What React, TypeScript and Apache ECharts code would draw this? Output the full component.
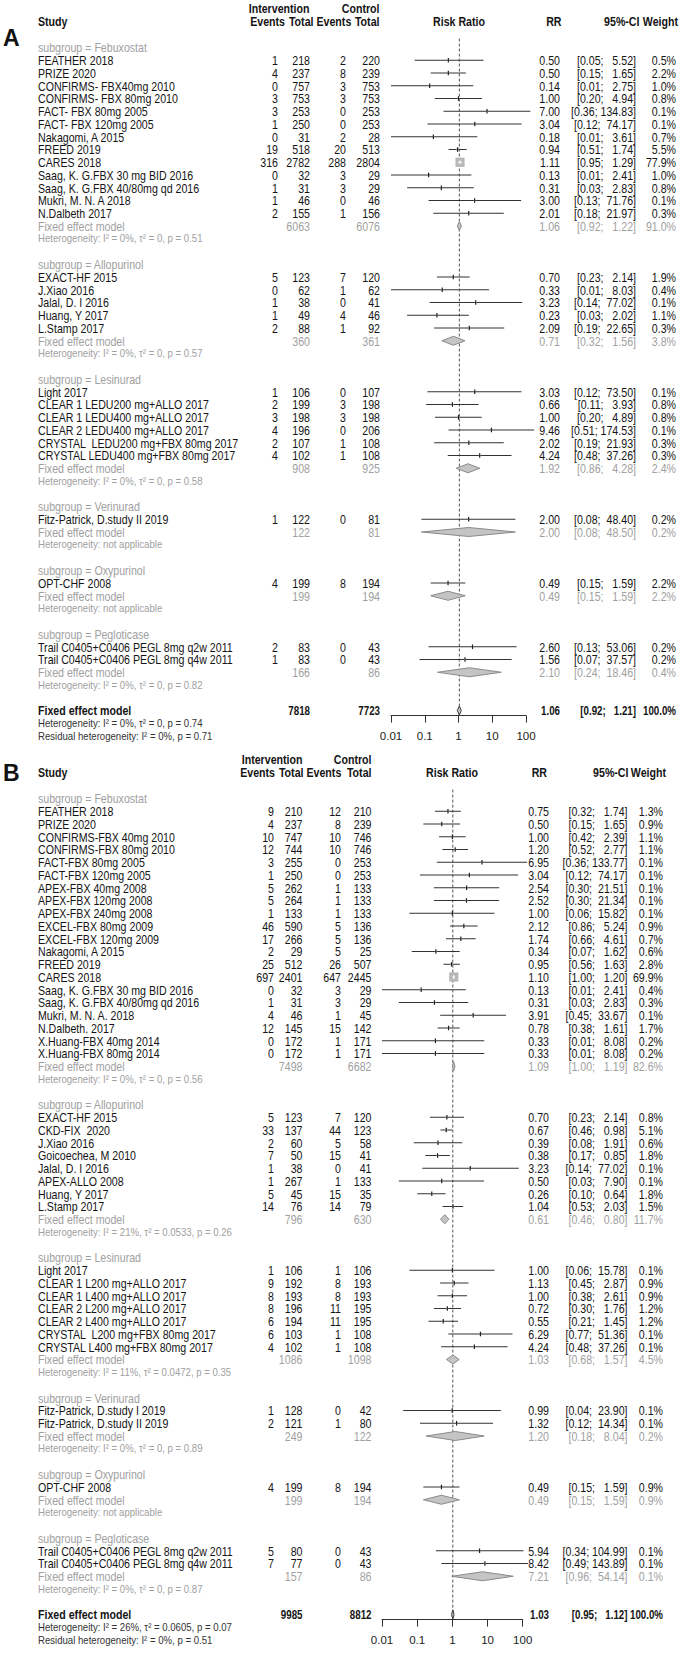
import { useEffect, useRef } from "react";
import * as echarts from "echarts";

// [name, events I, total I, events C, total C, RR, lower, upper, weight %]
type Study = [string, number, number, number, number, number, number, number, number];
// [total I, total C, RR, lower, upper, weight %]
type Pooled = [number, number, number, number, number, number];

// ---------------- Panel A ----------------
const A_FEBUXOSTAT: Study[] = [
  ["FEATHER 2018", 1, 218, 2, 220, 0.5, 0.05, 5.52, 0.5],
  ["PRIZE 2020", 4, 237, 8, 239, 0.5, 0.15, 1.65, 2.2],
  ["CONFIRMS- FBX40mg 2010", 0, 757, 3, 753, 0.14, 0.01, 2.75, 1.0],
  ["CONFIRMS- FBX 80mg 2010", 3, 753, 3, 753, 1.0, 0.2, 4.94, 0.8],
  ["FACT- FBX 80mg 2005", 3, 253, 0, 253, 7.0, 0.36, 134.83, 0.1],
  ["FACT- FBX 120mg 2005", 1, 250, 0, 253, 3.04, 0.12, 74.17, 0.1],
  ["Nakagomi, A 2015", 0, 31, 2, 28, 0.18, 0.01, 3.61, 0.7],
  ["FREED 2019", 19, 518, 20, 513, 0.94, 0.51, 1.74, 5.5],
  ["CARES 2018", 316, 2782, 288, 2804, 1.11, 0.95, 1.29, 77.9],
  ["Saag, K. G.FBX 30 mg BID 2016", 0, 32, 3, 29, 0.13, 0.01, 2.41, 1.0],
  ["Saag, K. G.FBX 40/80mg qd 2016", 1, 31, 3, 29, 0.31, 0.03, 2.83, 0.8],
  ["Mukri, M. N. A 2018", 1, 46, 0, 46, 3.0, 0.13, 71.76, 0.1],
  ["N.Dalbeth 2017", 2, 155, 1, 156, 2.01, 0.18, 21.97, 0.3],
];
const A_FEBUXOSTAT_FE: Pooled = [6063, 6076, 1.06, 0.92, 1.22, 91.0];
const A_FEBUXOSTAT_HET = "Heterogeneity: I² = 0%, τ² = 0, p = 0.51";

const A_ALLOPURINOL: Study[] = [
  ["EXACT-HF 2015", 5, 123, 7, 120, 0.7, 0.23, 2.14, 1.9],
  ["J.Xiao 2016", 0, 62, 1, 62, 0.33, 0.01, 8.03, 0.4],
  ["Jalal, D. I 2016", 1, 38, 0, 41, 3.23, 0.14, 77.02, 0.1],
  ["Huang, Y 2017", 1, 49, 4, 46, 0.23, 0.03, 2.02, 1.1],
  ["L.Stamp 2017", 2, 88, 1, 92, 2.09, 0.19, 22.65, 0.3],
];
const A_ALLOPURINOL_FE: Pooled = [360, 361, 0.71, 0.32, 1.56, 3.8];
const A_ALLOPURINOL_HET = "Heterogeneity: I² = 0%, τ² = 0, p = 0.57";

const A_LESINURAD: Study[] = [
  ["Light 2017", 1, 106, 0, 107, 3.03, 0.12, 73.5, 0.1],
  ["CLEAR 1 LEDU200 mg+ALLO 2017", 2, 199, 3, 198, 0.66, 0.11, 3.93, 0.8],
  ["CLEAR 1 LEDU400 mg+ALLO 2017", 3, 198, 3, 198, 1.0, 0.2, 4.89, 0.8],
  ["CLEAR 2 LEDU400 mg+ALLO 2017", 4, 196, 0, 206, 9.46, 0.51, 174.53, 0.1],
  ["CRYSTAL  LEDU200 mg+FBX 80mg 2017", 2, 107, 1, 108, 2.02, 0.19, 21.93, 0.3],
  ["CRYSTAL LEDU400 mg+FBX 80mg 2017", 4, 102, 1, 108, 4.24, 0.48, 37.26, 0.3],
];
const A_LESINURAD_FE: Pooled = [908, 925, 1.92, 0.86, 4.28, 2.4];
const A_LESINURAD_HET = "Heterogeneity: I² = 0%, τ² = 0, p = 0.58";

const A_VERINURAD: Study[] = [
  ["Fitz-Patrick, D.study II 2019", 1, 122, 0, 81, 2.0, 0.08, 48.4, 0.2],
];
const A_VERINURAD_FE: Pooled = [122, 81, 2.0, 0.08, 48.5, 0.2];
const A_VERINURAD_HET = "Heterogeneity: not applicable";

const A_OXYPURINOL: Study[] = [["OPT-CHF 2008", 4, 199, 8, 194, 0.49, 0.15, 1.59, 2.2]];
const A_OXYPURINOL_FE: Pooled = [199, 194, 0.49, 0.15, 1.59, 2.2];
const A_OXYPURINOL_HET = "Heterogeneity: not applicable";

const A_PEGLOTICASE: Study[] = [
  ["Trail C0405+C0406 PEGL 8mg q2w 2011", 2, 83, 0, 43, 2.6, 0.13, 53.06, 0.2],
  ["Trail C0405+C0406 PEGL 8mg q4w 2011", 1, 83, 0, 43, 1.56, 0.07, 37.57, 0.2],
];
const A_PEGLOTICASE_FE: Pooled = [166, 86, 2.1, 0.24, 18.46, 0.4];
const A_PEGLOTICASE_HET = "Heterogeneity: I² = 0%, τ² = 0, p = 0.82";

const A_OVERALL: Pooled = [7818, 7723, 1.06, 0.92, 1.21, 100.0];
const A_OVERALL_HET = "Heterogeneity: I² = 0%, τ² = 0, p = 0.74";
const A_RESIDUAL = "Residual heterogeneity: I² = 0%, p = 0.71";

// ---------------- Panel B ----------------
const B_FEBUXOSTAT: Study[] = [
  ["FEATHER 2018", 9, 210, 12, 210, 0.75, 0.32, 1.74, 1.3],
  ["PRIZE 2020", 4, 237, 8, 239, 0.5, 0.15, 1.65, 0.9],
  ["CONFIRMS-FBX 40mg 2010", 10, 747, 10, 746, 1.0, 0.42, 2.39, 1.1],
  ["CONFIRMS-FBX 80mg 2010", 12, 744, 10, 746, 1.2, 0.52, 2.77, 1.1],
  ["FACT-FBX 80mg 2005", 3, 255, 0, 253, 6.95, 0.36, 133.77, 0.1],
  ["FACT-FBX 120mg 2005", 1, 250, 0, 253, 3.04, 0.12, 74.17, 0.1],
  ["APEX-FBX 40mg 2008", 5, 262, 1, 133, 2.54, 0.3, 21.51, 0.1],
  ["APEX-FBX 120mg 2008", 5, 264, 1, 133, 2.52, 0.3, 21.34, 0.1],
  ["APEX-FBX 240mg 2008", 1, 133, 1, 133, 1.0, 0.06, 15.82, 0.1],
  ["EXCEL-FBX 80mg 2009", 46, 590, 5, 136, 2.12, 0.86, 5.24, 0.9],
  ["EXCEL-FBX 120mg 2009", 17, 266, 5, 136, 1.74, 0.66, 4.61, 0.7],
  ["Nakagomi, A 2015", 2, 29, 5, 25, 0.34, 0.07, 1.62, 0.6],
  ["FREED 2019", 25, 512, 26, 507, 0.95, 0.56, 1.63, 2.8],
  ["CARES 2018", 697, 2401, 647, 2445, 1.1, 1.0, 1.2, 69.9],
  ["Saag, K. G.FBX 30 mg BID 2016", 0, 32, 3, 29, 0.13, 0.01, 2.41, 0.4],
  ["Saag, K. G.FBX 40/80mg qd 2016", 1, 31, 3, 29, 0.31, 0.03, 2.83, 0.3],
  ["Mukri, M. N. A. 2018", 4, 46, 1, 45, 3.91, 0.45, 33.67, 0.1],
  ["N.Dalbeth. 2017", 12, 145, 15, 142, 0.78, 0.38, 1.61, 1.7],
  ["X.Huang-FBX 40mg 2014", 0, 172, 1, 171, 0.33, 0.01, 8.08, 0.2],
  ["X.Huang-FBX 80mg 2014", 0, 172, 1, 171, 0.33, 0.01, 8.08, 0.2],
];
const B_FEBUXOSTAT_FE: Pooled = [7498, 6682, 1.09, 1.0, 1.19, 82.6];
const B_FEBUXOSTAT_HET = "Heterogeneity: I² = 0%, τ² = 0, p = 0.56";

const B_ALLOPURINOL: Study[] = [
  ["EXACT-HF 2015", 5, 123, 7, 120, 0.7, 0.23, 2.14, 0.8],
  ["CKD-FIX  2020", 33, 137, 44, 123, 0.67, 0.46, 0.98, 5.1],
  ["J.Xiao 2016", 2, 60, 5, 58, 0.39, 0.08, 1.91, 0.6],
  ["Goicoechea, M 2010", 7, 50, 15, 41, 0.38, 0.17, 0.85, 1.8],
  ["Jalal, D. I 2016", 1, 38, 0, 41, 3.23, 0.14, 77.02, 0.1],
  ["APEX-ALLO 2008", 1, 267, 1, 133, 0.5, 0.03, 7.9, 0.1],
  ["Huang, Y 2017", 5, 45, 15, 35, 0.26, 0.1, 0.64, 1.8],
  ["L.Stamp 2017", 14, 76, 14, 79, 1.04, 0.53, 2.03, 1.5],
];
const B_ALLOPURINOL_FE: Pooled = [796, 630, 0.61, 0.46, 0.8, 11.7];
const B_ALLOPURINOL_HET = "Heterogeneity: I² = 21%, τ² = 0.0533, p = 0.26";

const B_LESINURAD: Study[] = [
  ["Light 2017", 1, 106, 1, 106, 1.0, 0.06, 15.78, 0.1],
  ["CLEAR 1 L200 mg+ALLO 2017", 9, 192, 8, 193, 1.13, 0.45, 2.87, 0.9],
  ["CLEAR 1 L400 mg+ALLO 2017", 8, 193, 8, 193, 1.0, 0.38, 2.61, 0.9],
  ["CLEAR 2 L200 mg+ALLO 2017", 8, 196, 11, 195, 0.72, 0.3, 1.76, 1.2],
  ["CLEAR 2 L400 mg+ALLO 2017", 6, 194, 11, 195, 0.55, 0.21, 1.45, 1.2],
  ["CRYSTAL  L200 mg+FBX 80mg 2017", 6, 103, 1, 108, 6.29, 0.77, 51.36, 0.1],
  ["CRYSTAL L400 mg+FBX 80mg 2017", 4, 102, 1, 108, 4.24, 0.48, 37.26, 0.1],
];
const B_LESINURAD_FE: Pooled = [1086, 1098, 1.03, 0.68, 1.57, 4.5];
const B_LESINURAD_HET = "Heterogeneity: I² = 11%, τ² = 0.0472, p = 0.35";

const B_VERINURAD: Study[] = [
  ["Fitz-Patrick, D.study I 2019", 1, 128, 0, 42, 0.99, 0.04, 23.9, 0.1],
  ["Fitz-Patrick, D.study II 2019", 2, 121, 1, 80, 1.32, 0.12, 14.34, 0.1],
];
const B_VERINURAD_FE: Pooled = [249, 122, 1.2, 0.18, 8.04, 0.2];
const B_VERINURAD_HET = "Heterogeneity: I² = 0%, τ² = 0, p = 0.89";

const B_OXYPURINOL: Study[] = [["OPT-CHF 2008", 4, 199, 8, 194, 0.49, 0.15, 1.59, 0.9]];
const B_OXYPURINOL_FE: Pooled = [199, 194, 0.49, 0.15, 1.59, 0.9];
const B_OXYPURINOL_HET = "Heterogeneity: not applicable";

const B_PEGLOTICASE: Study[] = [
  ["Trail C0405+C0406 PEGL 8mg q2w 2011", 5, 80, 0, 43, 5.94, 0.34, 104.99, 0.1],
  ["Trail C0405+C0406 PEGL 8mg q4w 2011", 7, 77, 0, 43, 8.42, 0.49, 143.89, 0.1],
];
const B_PEGLOTICASE_FE: Pooled = [157, 86, 7.21, 0.96, 54.14, 0.1];
const B_PEGLOTICASE_HET = "Heterogeneity: I² = 0%, τ² = 0, p = 0.87";

const B_OVERALL: Pooled = [9985, 8812, 1.03, 0.95, 1.12, 100.0];
const B_OVERALL_HET = "Heterogeneity: I² = 26%, τ² = 0.0605, p = 0.07";
const B_RESIDUAL = "Residual heterogeneity: I² = 0%, p = 0.51";

const SUBGROUPS = ["Febuxostat", "Allopurinol", "Lesinurad", "Verinurad", "Oxypurinol", "Pegloticase"];
const AXIS_TICKS = [0.01, 0.1, 1, 10, 100];

// ---------------- layout / style ----------------
const FONT = '"Liberation Sans", Arial, Helvetica, sans-serif';
const FS = 12.5;
const SX = 0.85;
const SXB = 0.78;
const INK = "#141414";
const GRAY = "#a0a0a0";
const NB = "\u00a0";

type Layout = {
  row0: number; h: number; nameX: number;
  ev1: number; tot1: number; ev2: number; tot2: number;
  px0: number; px1: number; rr: number; ci: number; w: number;
  hdrCols: number[]; hdrIntv: number; hdrCtrl: number;
  hdrRR: number; hdrCI: number; hdrW: number; hdrRisk: number;
  letter: string; letterY: number;
};

const LAYOUT_A: Layout = {
  row0: 47.5, h: 12.75, nameX: 38,
  ev1: 278, tot1: 310, ev2: 346, tot2: 380,
  px0: 391, px1: 526, rr: 560, ci: 636, w: 676,
  hdrCols: [285, 313.5, 351.3, 379.5], hdrIntv: 309.5, hdrCtrl: 379.5,
  hdrRR: 561.5, hdrCI: 639.5, hdrW: 678, hdrRisk: 459,
  letter: "A", letterY: 38,
};
const LAYOUT_B: Layout = {
  row0: 798.5, h: 12.75, nameX: 38,
  ev1: 274, tot1: 302.5, ev2: 341, tot2: 371.5,
  px0: 382, px1: 522.7, rr: 549, ci: 627.5, w: 663,
  hdrCols: [275, 303.5, 341.3, 371.5], hdrIntv: 302.5, hdrCtrl: 371.5,
  hdrRR: 547, hdrCI: 628.5, hdrW: 666, hdrRisk: 452,
  letter: "B", letterY: 773,
};

type Group = { name: string; studies: Study[]; fe: Pooled; het: string };

const GROUPS_A: Group[] = [
  { name: SUBGROUPS[0], studies: A_FEBUXOSTAT, fe: A_FEBUXOSTAT_FE, het: A_FEBUXOSTAT_HET },
  { name: SUBGROUPS[1], studies: A_ALLOPURINOL, fe: A_ALLOPURINOL_FE, het: A_ALLOPURINOL_HET },
  { name: SUBGROUPS[2], studies: A_LESINURAD, fe: A_LESINURAD_FE, het: A_LESINURAD_HET },
  { name: SUBGROUPS[3], studies: A_VERINURAD, fe: A_VERINURAD_FE, het: A_VERINURAD_HET },
  { name: SUBGROUPS[4], studies: A_OXYPURINOL, fe: A_OXYPURINOL_FE, het: A_OXYPURINOL_HET },
  { name: SUBGROUPS[5], studies: A_PEGLOTICASE, fe: A_PEGLOTICASE_FE, het: A_PEGLOTICASE_HET },
];
const GROUPS_B: Group[] = [
  { name: SUBGROUPS[0], studies: B_FEBUXOSTAT, fe: B_FEBUXOSTAT_FE, het: B_FEBUXOSTAT_HET },
  { name: SUBGROUPS[1], studies: B_ALLOPURINOL, fe: B_ALLOPURINOL_FE, het: B_ALLOPURINOL_HET },
  { name: SUBGROUPS[2], studies: B_LESINURAD, fe: B_LESINURAD_FE, het: B_LESINURAD_HET },
  { name: SUBGROUPS[3], studies: B_VERINURAD, fe: B_VERINURAD_FE, het: B_VERINURAD_HET },
  { name: SUBGROUPS[4], studies: B_OXYPURINOL, fe: B_OXYPURINOL_FE, het: B_OXYPURINOL_HET },
  { name: SUBGROUPS[5], studies: B_PEGLOTICASE, fe: B_PEGLOTICASE_FE, het: B_PEGLOTICASE_HET },
];

type Row =
  | { kind: "sub"; text: string }
  | { kind: "study"; s: Study }
  | { kind: "fe"; p: Pooled }
  | { kind: "het"; text: string }
  | { kind: "blank" }
  | { kind: "overall"; p: Pooled }
  | { kind: "ohet"; text: string };

function buildRows(groups: Group[], overall: Pooled, het: string, resid: string): Row[] {
  const rows: Row[] = [];
  groups.forEach((g) => {
    rows.push({ kind: "sub", text: `subgroup = ${g.name}` });
    g.studies.forEach((s) => rows.push({ kind: "study", s }));
    rows.push({ kind: "fe", p: g.fe });
    rows.push({ kind: "het", text: g.het });
    rows.push({ kind: "blank" });
  });
  rows.push({ kind: "overall", p: overall });
  rows.push({ kind: "ohet", text: het });
  rows.push({ kind: "ohet", text: resid });
  return rows;
}

const fmtCI = (lo: number, hi: number) => {
  const h = hi.toFixed(2);
  return `[${lo.toFixed(2)};${NB}${NB.repeat(Math.max(0, 6 - h.length))}${h}]`;
};

function panelTexts(rows: Row[], L: Layout): any[] {
  const out: any[] = [];
  const yOf = (i: number) => L.row0 + i * L.h;
  const txt = (
    text: string, x: number, y: number,
    o: { color?: string; bold?: boolean; align?: string; size?: number; sx?: number } = {}
  ) => {
    const align = o.align ?? "left";
    out.push({
      type: "text", x, y, scaleX: o.sx ?? (o.bold ? SXB : SX), silent: true, z: 10,
      style: {
        text, fill: o.color ?? INK, fontSize: o.size ?? FS, fontFamily: FONT,
        fontWeight: o.bold ? "bold" : "normal",
        align, verticalAlign: "middle", textAlign: align, textVerticalAlign: "middle",
      },
    });
  };
  const h1 = L.row0 - 39;
  const h2 = L.row0 - 26.5;
  txt("Intervention", L.hdrIntv, h1, { bold: true, align: "right", sx: SX });
  txt("Control", L.hdrCtrl, h1, { bold: true, align: "right", sx: SX });
  txt("Study", L.nameX, h2, { bold: true, sx: SX });
  ["Events", "Total", "Events", "Total"].forEach((t, k) =>
    txt(t, L.hdrCols[k], h2, { bold: true, align: "right", sx: SX })
  );
  txt("Risk Ratio", L.hdrRisk, h2, { bold: true, align: "center", sx: SX });
  txt("RR", L.hdrRR, h2, { bold: true, align: "right", sx: SX });
  txt("95%-CI", L.hdrCI, h2, { bold: true, align: "right", sx: SX });
  txt("Weight", L.hdrW, h2, { bold: true, align: "right", sx: SX });
  txt(L.letter, 3, L.letterY, { bold: true, size: 23, sx: 1, color: "#111" });

  rows.forEach((r, i) => {
    const y = yOf(i);
    if (r.kind === "sub") txt(r.text, L.nameX, y, { color: GRAY });
    else if (r.kind === "study") {
      const [name, e1, n1, e2, n2, rr, lo, hi, w] = r.s;
      txt(name, L.nameX, y);
      txt(String(e1), L.ev1, y, { align: "right" });
      txt(String(n1), L.tot1, y, { align: "right" });
      txt(String(e2), L.ev2, y, { align: "right" });
      txt(String(n2), L.tot2, y, { align: "right" });
      txt(rr.toFixed(2), L.rr, y, { align: "right" });
      txt(fmtCI(lo, hi), L.ci, y, { align: "right" });
      txt(`${w.toFixed(1)}%`, L.w, y, { align: "right" });
    } else if (r.kind === "fe" || r.kind === "overall") {
      const [n1, n2, rr, lo, hi, w] = r.p;
      const o = r.kind === "fe" ? { color: GRAY } : { bold: true };
      txt("Fixed effect model", L.nameX, y, r.kind === "fe" ? o : { bold: true, sx: SX });
      txt(String(n1), L.tot1, y, { ...o, align: "right" });
      txt(String(n2), L.tot2, y, { ...o, align: "right" });
      txt(rr.toFixed(2), L.rr, y, { ...o, align: "right" });
      txt(fmtCI(lo, hi), L.ci, y, { ...o, align: "right" });
      txt(`${w.toFixed(1)}%`, L.w, y, { ...o, align: "right" });
    } else if (r.kind === "het") txt(r.text, L.nameX, y, { color: GRAY, size: 10.5, sx: 0.915 });
    else if (r.kind === "ohet") txt(r.text, L.nameX, y, { color: "#333", size: 10.5, sx: 0.915 });
  });
  return out;
}

function markData(rows: Row[]): number[][] {
  const studies = rows.filter((r) => r.kind === "study") as { kind: "study"; s: Study }[];
  const wmax = Math.max(...studies.map((r) => r.s[8]));
  const data: number[][] = [];
  rows.forEach((r, i) => {
    if (r.kind === "study") data.push([i, 0, r.s[5], r.s[6], r.s[7], r.s[8], wmax]);
    else if (r.kind === "fe") data.push([i, 1, r.p[2], r.p[3], r.p[4], r.p[5], wmax]);
    else if (r.kind === "overall") data.push([i, 2, r.p[2], r.p[3], r.p[4], r.p[5], wmax]);
  });
  return data;
}

const renderMark = (_params: any, api: any) => {
  const row = api.value(0);
  const kind = api.value(1);
  const rr = api.value(2);
  const lo = api.value(3);
  const hi = api.value(4);
  const w = api.value(5);
  const wmax = api.value(6);
  const c = api.coord([rr, row]);
  const xl = api.coord([lo, row])[0];
  const xh = api.coord([hi, row])[0];
  const x = c[0];
  const y = c[1];
  if (kind === 0) {
    const s = Math.max(1.2, 8.5 * Math.sqrt(w / wmax));
    const children: any[] = [
      { type: "line", shape: { x1: xl, y1: y, x2: xh, y2: y }, style: { stroke: "#333333", lineWidth: 1 } },
      { type: "rect", shape: { x: x - s / 2, y: y - s / 2, width: s, height: s }, style: { fill: "#b9b9b9", stroke: "#aaaaaa", lineWidth: 0.5 } },
    ];
    if (s > 5) {
      children.push({ type: "line", shape: { x1: Math.max(xl, x - s / 2), y1: y, x2: Math.min(xh, x + s / 2), y2: y }, style: { stroke: "#ffffff", lineWidth: 1 } });
      children.push({ type: "line", shape: { x1: x, y1: y - 2, x2: x, y2: y + 2 }, style: { stroke: "#ffffff", lineWidth: 1 } });
    } else {
      children.push({ type: "line", shape: { x1: x, y1: y - 2.3, x2: x, y2: y + 2.3 }, style: { stroke: "#222222", lineWidth: 1.2 } });
    }
    return { type: "group", children };
  }
  const hh = 4.5;
  return {
    type: "polygon",
    shape: { points: [[xl, y], [x, y - hh], [xh, y], [x, y + hh]] },
    style: { fill: "#c4c4c4", stroke: kind === 2 ? "#3a3a3a" : "#8a8a8a", lineWidth: 1 },
  };
};

function panelOption(rows: Row[], L: Layout, idx: number, overallRR: number) {
  const overallRow = rows.findIndex((r) => r.kind === "overall");
  const yMin = -1;
  const yMax = overallRow + 0.4;
  const grid = {
    left: L.px0, width: L.px1 - L.px0,
    top: L.row0 + yMin * L.h, height: (yMax - yMin) * L.h,
    containLabel: false, outerBoundsMode: "none",
  };
  const xAxis = {
    type: "log", logBase: 10, gridIndex: idx, min: AXIS_TICKS[0], max: AXIS_TICKS[AXIS_TICKS.length - 1],
    position: "bottom",
    axisLine: { show: true, onZero: false, lineStyle: { color: "#333", width: 1 } },
    axisTick: { show: true, length: 7, lineStyle: { color: "#333", width: 1 } },
    axisLabel: {
      show: true, margin: 14, color: "#222", fontSize: 11.5, fontFamily: FONT,
      formatter: (v: number) => String(Number(Number(v).toPrecision(2))),
    },
    splitLine: { show: false },
    minorTick: { show: false },
  };
  const yAxis = { type: "value", gridIndex: idx, min: yMin, max: yMax, inverse: true, show: false };
  const series = [
    {
      type: "line", xAxisIndex: idx, yAxisIndex: idx, silent: true, z: 1,
      data: [[overallRR, -0.7], [overallRR, yMax]], symbol: "none",
      lineStyle: { color: "#555", width: 1, type: [3, 2] },
    },
    {
      type: "custom", xAxisIndex: idx, yAxisIndex: idx, silent: true, z: 3, clip: false,
      renderItem: renderMark, data: markData(rows), encode: { x: [2, 3, 4], y: 0 },
    },
  ];
  return { grid, xAxis, yAxis, series };
}

const ROWS_A = buildRows(GROUPS_A, A_OVERALL, A_OVERALL_HET, A_RESIDUAL);
const ROWS_B = buildRows(GROUPS_B, B_OVERALL, B_OVERALL_HET, B_RESIDUAL);

export default function App() {
  const ref = useRef<HTMLDivElement>(null);
  useEffect(() => {
    document.body.style.margin = "0";
    if (!ref.current) return;
    const chart = echarts.init(ref.current, null, { renderer: "svg", width: 679, height: 1653 });
    const pa = panelOption(ROWS_A, LAYOUT_A, 0, A_OVERALL[2]);
    const pb = panelOption(ROWS_B, LAYOUT_B, 1, B_OVERALL[2]);
    chart.setOption({
      animation: false,
      backgroundColor: "#ffffff",
      grid: [pa.grid, pb.grid],
      xAxis: [pa.xAxis, pb.xAxis],
      yAxis: [pa.yAxis, pb.yAxis],
      series: [...pa.series, ...pb.series],
      graphic: { elements: [...panelTexts(ROWS_A, LAYOUT_A), ...panelTexts(ROWS_B, LAYOUT_B)] },
    } as any);
    return () => chart.dispose();
  }, []);
  return <div ref={ref} style={{ width: 679, height: 1653, background: "#fff" }} />;
}
